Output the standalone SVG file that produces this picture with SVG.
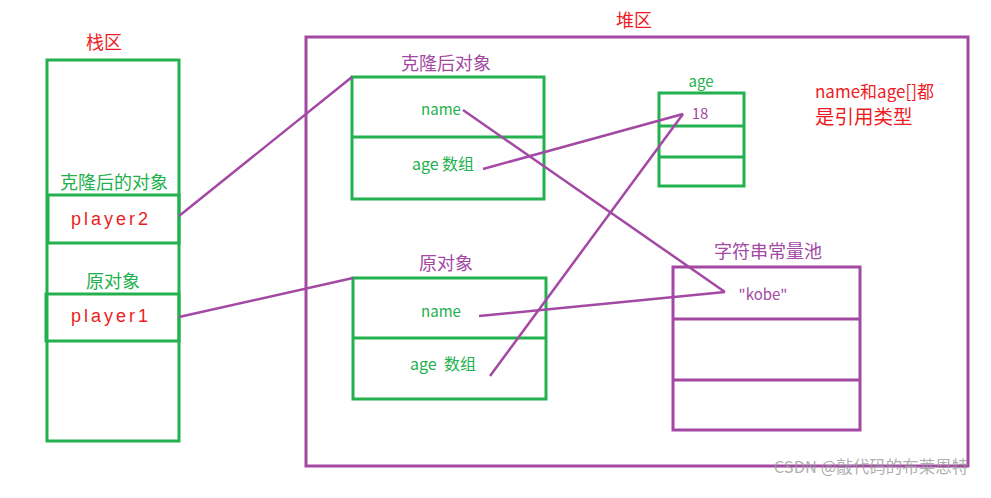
<svg xmlns="http://www.w3.org/2000/svg" width="991" height="498" viewBox="0 0 991 498">
<style>
text{font-family:"Noto Sans CJK SC","Liberation Sans",sans-serif;text-anchor:middle}
.g{fill:none;stroke:#22b14c;stroke-width:3}
.p{fill:none;stroke:#a349a4;stroke-width:3}
.tg{fill:#22b14c}
.tp{fill:#a349a4}
.tr{fill:#ed1c24}
.pl{font-family:"Liberation Sans",sans-serif;font-size:18px;letter-spacing:3px}
.ln{stroke:#a349a4;stroke-width:2.5;fill:none}
</style>
<rect width="991" height="498" fill="#fff"/>
<g id="stack">
<text x="104" y="49" class="tr" font-size="18">栈区</text>
<rect x="47" y="60" width="132" height="381" class="g"/>
</g>
<g id="player2">
<text x="114" y="189" class="tg" font-size="18">克隆后的对象</text>
<rect x="48" y="195" width="131" height="48" class="g"/>
<text x="111" y="225" class="tr pl">player2</text>
</g>
<g id="player1">
<text x="113" y="288" class="tg" font-size="18">原对象</text>
<rect x="46" y="294" width="133" height="47" class="g"/>
<text x="111" y="322" class="tr pl">player1</text>
</g>
<g id="heap">
<text x="634" y="27" class="tr" font-size="18">堆区</text>
<rect x="306" y="37" width="662" height="429" class="p"/>
</g>
<g id="clone">
<text x="446" y="70" class="tp" font-size="18">克隆后对象</text>
<rect x="352" y="77" width="192" height="122" class="g"/>
<line x1="352" y1="137" x2="544" y2="137" class="g"/>
<text x="441" y="115" class="tg" font-size="15">name</text>
<text x="443" y="170" class="tg" font-size="16">age 数组</text>
</g>
<g id="original">
<text x="446" y="270" class="tp" font-size="18">原对象</text>
<rect x="353" y="278" width="193" height="121" class="g"/>
<line x1="353" y1="338" x2="546" y2="338" class="g"/>
<text x="441" y="317" class="tg" font-size="15">name</text>
<text x="443" y="370" class="tg" font-size="16" xml:space="preserve">age  数组</text>
</g>
<g id="agearray">
<text x="701" y="87" class="tg" font-size="15">age</text>
<rect x="659" y="93" width="85" height="93" class="g"/>
<line x1="659" y1="126" x2="744" y2="126" class="g"/>
<line x1="659" y1="157" x2="744" y2="157" class="g"/>
<text x="700" y="119" class="tp" font-size="15">18</text>
</g>
<g id="note">
<text x="815" y="98" class="tr" font-size="17" style="text-anchor:start">name和age[]都</text>
<text x="815" y="124" class="tr" font-size="19.5" style="text-anchor:start">是引用类型</text>
</g>
<g id="stringpool">
<text x="768" y="258" class="tp" font-size="18">字符串常量池</text>
<rect x="673" y="267" width="187" height="163" class="p"/>
<line x1="673" y1="319" x2="860" y2="319" class="p"/>
<line x1="673" y1="380" x2="860" y2="380" class="p"/>
<text x="763" y="300" class="tp" font-size="15">"kobe"</text>
</g>
<g id="connectors">
<line x1="179" y1="216" x2="352" y2="77" class="ln"/>
<line x1="179" y1="317" x2="353" y2="278" class="ln"/>
<line x1="463" y1="110" x2="725" y2="292" class="ln"/>
<line x1="483" y1="169" x2="683" y2="114" class="ln"/>
<line x1="479" y1="316" x2="725" y2="292" class="ln"/>
<line x1="490" y1="376" x2="683" y2="114" class="ln"/>
</g>
<text x="871" y="473" fill="#999" fill-opacity="0.8" font-size="16.5">CSDN @敲代码的布莱恩特</text>
</svg>
